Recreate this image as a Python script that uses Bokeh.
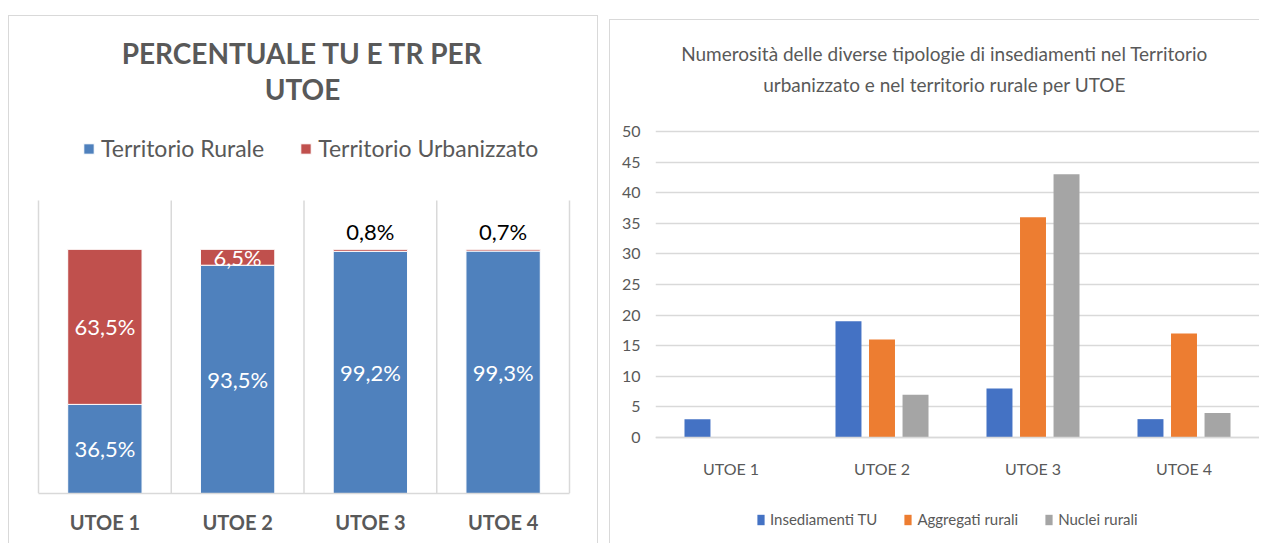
from bokeh.plotting import figure
from bokeh.models import (ColumnDataSource, FixedTicker, Legend, LegendItem, Label,
                          LabelSet, Range1d)
from bokeh.layouts import row
from bokeh.transform import dodge
from bokeh.embed import file_html
from bokeh.resources import INLINE
from bokeh.core.properties import value

# ---------------- data ----------------
categories = ["UTOE 1", "UTOE 2", "UTOE 3", "UTOE 4"]

left_title = ["PERCENTUALE TU E TR PER", "UTOE"]
left_series = ["Territorio Rurale", "Territorio Urbanizzato"]
rurale = [36.5, 93.5, 99.2, 99.3]
urbanizzato = [63.5, 6.5, 0.8, 0.7]

right_title = ["Numerosità delle diverse tipologie di insediamenti nel Territorio",
               "urbanizzato e nel territorio rurale per UTOE"]
right_series = ["Insediamenti TU", "Aggregati rurali", "Nuclei rurali"]
insediamenti_tu = [3, 19, 8, 3]
aggregati_rurali = [0, 16, 36, 17]
nuclei_rurali = [0, 7, 43, 4]
right_y_ticks = [0, 5, 10, 15, 20, 25, 30, 35, 40, 45, 50]

# ---------------- style ----------------
FONT = "Lato"
GRAY = "#595959"
GRID = "#d9d9d9"
BLUE_L, RED_L = "#4f81bd", "#c0504d"
BLUE_R, ORANGE_R, GRAY_R = "#4472c4", "#ed7d31", "#a5a5a5"


def pct(v):
    return f"{v:.1f}".replace(".", ",") + "%"


def no_align(p):
    if "frame_align" in p.properties():
        p.frame_align = False


# ================= LEFT CHART =================
# figure box on page: x 8..598, y 15..543 ; plot area x 38..569, y 200..493
L_X0, L_Y0, L_W, L_H = 8, 15, 590, 528
L_AX0, L_AX1, L_AYT, L_AYB = 38, 569, 200, 493
L_YTOP = 120                                 # value at plot-area top
L_XPX = (L_AX1 - L_AX0) / len(categories)    # px per category
L_YPX = (L_AYB - L_AYT) / L_YTOP             # px per percent
L_FH = L_AYB - L_Y0                          # frame height (frame = figure top .. axis)


def lx(page_x):
    return (page_x - L_AX0) / L_XPX


def ly(page_y):
    return (L_AYB - page_y) / L_YPX


p1 = figure(frame_width=L_W, frame_height=L_FH,
            x_range=Range1d(lx(L_X0), lx(L_X0 + L_W)), y_range=Range1d(0, ly(L_Y0)),
            y_axis_location=None,
            output_backend="svg", toolbar_location=None,
            min_border_left=0, min_border_right=0, min_border_top=0,
            min_border_bottom=L_H - L_FH)
no_align(p1)
p1.margin = (L_Y0, 0, 0, L_X0)
p1.styles = {"box-shadow": "inset 1px 1px 0 #d9d9d9, inset -1px 0 0 #d9d9d9"}
p1.outline_line_color = None
p1.background_fill_color = None
p1.border_fill_color = None
p1.xgrid.grid_line_color = None
p1.ygrid.grid_line_color = None

xs = [i + 0.5 for i in range(len(categories))]
tops = [r + u for r, u in zip(rurale, urbanizzato)]
src1 = ColumnDataSource(dict(x=xs, rurale=rurale, urb=urbanizzato, top=tops))

# vertical separators between categories (Excel vertical gridlines)
bounds = list(range(len(categories) + 1))
p1.segment(x0=bounds, y0=0, x1=bounds, y1=L_YTOP, line_color=GRID, line_width=1.5)

r_rur = p1.vbar(x="x", bottom=0, top="rurale", width=0.56, source=src1,
                fill_color=BLUE_L, line_color="white", line_width=1)
r_urb = p1.vbar(x="x", bottom="rurale", top="top", width=0.56, source=src1,
                fill_color=RED_L, line_color="white", line_width=1)

# data labels
LBL_SIZE = "22px"
lab_rur = ColumnDataSource(dict(x=xs, y=[r / 2 for r in rurale], t=[pct(r) for r in rurale]))
p1.add_layout(LabelSet(x="x", y="y", text="t", source=lab_rur, text_align="center",
                       text_baseline="middle", text_color="white",
                       text_font=value(FONT), text_font_size=LBL_SIZE))
inside = [u >= 3 for u in urbanizzato]
lab_urb_in = ColumnDataSource(dict(
    x=[x for x, k in zip(xs, inside) if k],
    y=[r + u / 2 for r, u, k in zip(rurale, urbanizzato, inside) if k],
    t=[pct(u) for u, k in zip(urbanizzato, inside) if k]))
p1.add_layout(LabelSet(x="x", y="y", text="t", source=lab_urb_in, text_align="center",
                       text_baseline="middle", text_color="white",
                       text_font=value(FONT), text_font_size=LBL_SIZE))
lab_urb_out = ColumnDataSource(dict(
    x=[x for x, k in zip(xs, inside) if not k],
    y=[r + u for r, u, k in zip(rurale, urbanizzato, inside) if not k],
    t=[pct(u) for u, k in zip(urbanizzato, inside) if not k]))
p1.add_layout(LabelSet(x="x", y="y", text="t", source=lab_urb_out, text_align="center",
                       text_baseline="bottom", y_offset=4, text_color="black",
                       text_font=value(FONT), text_font_size=LBL_SIZE))

# axis
p1.xaxis.ticker = FixedTicker(ticks=xs)
p1.xaxis.bounds = (0, len(categories))
p1.xaxis.major_label_overrides = {x: c for x, c in zip(xs, categories)}
p1.xaxis.axis_line_color = GRID
p1.xaxis.axis_line_width = 1.5
p1.xaxis.major_tick_out = 0
p1.xaxis.major_tick_in = 0
p1.xaxis.major_tick_line_color = None
p1.xaxis.minor_tick_line_color = None
p1.xaxis.major_label_standoff = 16
p1.xaxis.major_label_text_font = FONT
p1.xaxis.major_label_text_font_size = "20px"
p1.xaxis.major_label_text_font_style = "bold"
p1.xaxis.major_label_text_color = GRAY

# title
for txt, py in zip(left_title, [52, 88]):
    p1.add_layout(Label(x=lx(302), y=ly(py), text=txt, text_align="center",
                        text_baseline="middle", text_font=FONT, text_font_size="28px",
                        text_font_style="bold", text_color=GRAY))

leg1 = Legend(items=[LegendItem(label=left_series[0], renderers=[r_rur]),
                     LegendItem(label=left_series[1], renderers=[r_urb])],
              orientation="horizontal", location=(82 - L_X0, (L_AYB - 148) - 14),
              padding=0, margin=0, spacing=35, label_standoff=6,
              glyph_width=13, glyph_height=13,
              background_fill_alpha=0, border_line_color=None,
              label_text_font=FONT, label_text_font_size="23px", label_text_color=GRAY)
p1.add_layout(leg1, "center")

# ================= RIGHT CHART =================
# figure box on page: x 609..1259, y 19..543 ; plot area x 655..1259, y 131..437
R_X0, R_Y0, R_W, R_H = 609, 19, 650, 524
R_AX0, R_AX1, R_AYT, R_AYB = 655, 1259, 131, 437
R_YTOP = 50
R_XPX = (R_AX1 - R_AX0) / len(categories)
R_YPX = (R_AYB - R_AYT) / R_YTOP


def rx(page_x):
    return (page_x - R_AX0) / R_XPX


def ry(page_y):
    return (R_AYB - page_y) / R_YPX


p2 = figure(width=R_W, height=R_H,
            x_range=Range1d(0, len(categories)),
            y_range=Range1d(ry(R_Y0 + R_H), ry(R_Y0)),
            output_backend="svg", toolbar_location=None,
            min_border_left=R_AX0 - R_X0, min_border_right=0, min_border_top=0,
            min_border_bottom=0)
no_align(p2)
p2.margin = (R_Y0, 0, 0, R_X0 - (L_X0 + L_W))
p2.styles = {"box-shadow": "inset 1px 1px 0 #d9d9d9"}
p2.outline_line_color = None
p2.background_fill_color = None
p2.border_fill_color = None

src2 = ColumnDataSource(dict(x=xs, tu=insediamenti_tu, agg=aggregati_rurali, nuc=nuclei_rurali))
bw = 0.172
b1 = p2.vbar(x=dodge("x", -0.222, range=p2.x_range), top="tu", width=bw, source=src2,
             fill_color=BLUE_R, line_color=None)
b2 = p2.vbar(x=dodge("x", 0.0, range=p2.x_range), top="agg", width=bw, source=src2,
             fill_color=ORANGE_R, line_color=None)
b3 = p2.vbar(x=dodge("x", 0.222, range=p2.x_range), top="nuc", width=bw, source=src2,
             fill_color=GRAY_R, line_color=None)

p2.xgrid.grid_line_color = None
p2.ygrid.ticker = FixedTicker(ticks=right_y_ticks)
p2.ygrid.grid_line_color = GRID
p2.ygrid.grid_line_width = 1.5
p2.yaxis.ticker = FixedTicker(ticks=right_y_ticks)
p2.yaxis.axis_line_color = None
p2.yaxis.major_tick_out = 0
p2.yaxis.major_tick_in = 0
p2.yaxis.major_tick_line_color = None
p2.yaxis.minor_tick_line_color = None
p2.yaxis.major_label_standoff = 15
p2.yaxis.major_label_text_font = FONT
p2.yaxis.major_label_text_font_size = "16px"
p2.yaxis.major_label_text_color = GRAY

p2.xaxis.fixed_location = 0
p2.xaxis.ticker = FixedTicker(ticks=xs)
p2.xaxis.major_label_overrides = {x: c for x, c in zip(xs, categories)}
p2.xaxis.axis_line_color = GRID
p2.xaxis.axis_line_width = 1.5
p2.xaxis.major_tick_out = 0
p2.xaxis.major_tick_in = 0
p2.xaxis.major_tick_line_color = None
p2.xaxis.minor_tick_line_color = None
p2.xaxis.major_label_standoff = 21
p2.xaxis.major_label_text_font = FONT
p2.xaxis.major_label_text_font_size = "16px"
p2.xaxis.major_label_text_color = GRAY

for txt, py in zip(right_title, [53, 84]):
    p2.add_layout(Label(x=rx(944), y=ry(py), text=txt, text_align="center",
                        text_baseline="middle", text_font=FONT, text_font_size="19px",
                        text_color=GRAY))

leg2 = Legend(items=[LegendItem(label=right_series[0], renderers=[b1]),
                     LegendItem(label=right_series[1], renderers=[b2]),
                     LegendItem(label=right_series[2], renderers=[b3])],
              orientation="horizontal",
              location=(756 - R_AX0, (R_Y0 + R_H - 518) - 10),
              padding=0, margin=0, spacing=26, label_standoff=5,
              glyph_width=9, glyph_height=13,
              background_fill_alpha=0, border_line_color=None,
              label_text_font=FONT, label_text_font_size="15px", label_text_color=GRAY)
p2.add_layout(leg2, "center")

layout = row(p1, p2)
open("out.html", "w").write(file_html(layout, INLINE))
